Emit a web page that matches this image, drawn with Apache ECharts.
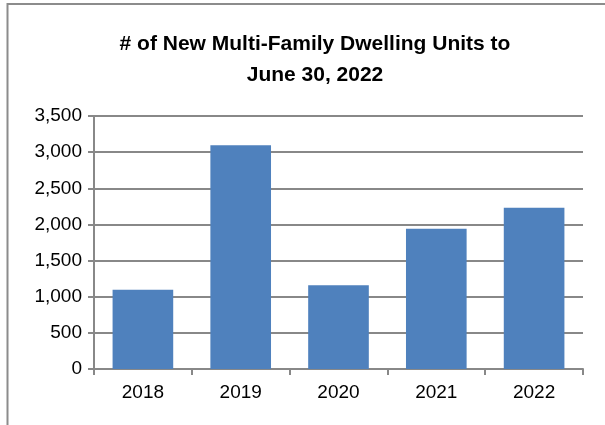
<!DOCTYPE html>
<html>
<head>
<meta charset="utf-8">
<script src="https://cdn.jsdelivr.net/npm/echarts@6/dist/echarts.min.js"></script>
<style>
  html, body { margin: 0; padding: 0; background: #fff; }
  #chart { width: 605px; height: 425px; }
</style>
</head>
<body>
<div id="chart"></div>
<script>
// data
const years = ['2018', '2019', '2020', '2021', '2022'];
const units = [1095, 3095, 1157, 1940, 2232];

const myChart = echarts.init(document.getElementById('chart'));
myChart.setOption({
  animation: false,
  textStyle: { fontFamily: 'Liberation Sans' },
  title: {
    text: '# of New Multi-Family Dwelling Units to\nJune 30, 2022',
    left: 310,
    top: 24,
    textAlign: 'center',
    textStyle: {
      fontFamily: 'Liberation Sans',
      fontWeight: 'bold',
      fontSize: 21,
      lineHeight: 31,
      color: '#000'
    }
  },
  graphic: [
    {
      type: 'polyline',
      shape: { points: [[7.5, 425], [7.5, 4], [605, 4]] },
      style: { stroke: '#8c8c8c', lineWidth: 2, fill: null }
    }
  ],
  grid: { left: 94, right: 22, top: 116, bottom: 56 },
  xAxis: {
    type: 'category',
    data: years,
    axisLine: { lineStyle: { color: '#888888', width: 2 } },
    axisTick: { show: true, length: 6, lineStyle: { color: '#888888', width: 2 } },
    axisLabel: { color: '#000', fontSize: 19, margin: 14 }
  },
  yAxis: {
    type: 'value',
    min: 0,
    max: 3500,
    interval: 500,
    axisLine: { show: true, lineStyle: { color: '#888888', width: 2 } },
    axisTick: { show: true, length: 6, lineStyle: { color: '#888888', width: 2 } },
    splitLine: { lineStyle: { color: '#888888', width: 2 } },
    axisLabel: {
      color: '#000',
      fontSize: 19,
      margin: 12,
      formatter: v => v.toLocaleString('en-US')
    }
  },
  series: [
    {
      type: 'bar',
      data: units,
      barWidth: '62%',
      itemStyle: { color: '#4f81bd' }
    }
  ]
});
</script>
</body>
</html>
